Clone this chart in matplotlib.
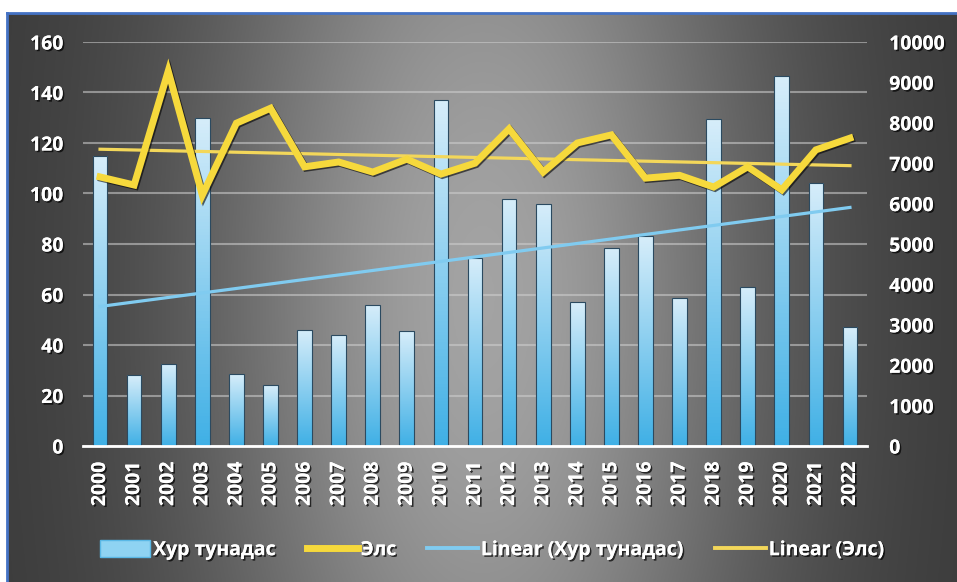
import numpy as np
import matplotlib
matplotlib.use("Agg")
import matplotlib.pyplot as plt
import matplotlib.patheffects as pe
from matplotlib.lines import Line2D
from matplotlib.patches import Patch

plt.rcParams["font.family"] = ["Open Sans", "DejaVu Sans"]
plt.rcParams["font.weight"] = "bold"

# ---------- data ----------
years = [str(y) for y in range(2000, 2023)]
rain = [115, 28, 32.5, 130, 28.5, 24, 46, 44, 56, 45.5, 137, 74.5, 98, 96,
        57, 78.5, 83, 58.5, 129.5, 63, 146.5, 104, 47]          # Хур тунадас
sand = [6660, 6460, 9280, 6210, 7990, 8360, 6910, 7030, 6780, 7100, 6730,
        7000, 7850, 6780, 7500, 7700, 6630, 6700, 6410, 6910, 6340, 7330, 7620]  # Элс
left_ticks = list(range(0, 161, 20))
right_ticks = list(range(0, 10001, 1000))

YELLOW, BLUE_TR = "#f6d93c", "#80cbf0"
shadow = [pe.withSimplePatchShadow(offset=(1.2, -1.2), shadow_rgbFace="k", alpha=0.7), pe.Normal()]

W, H = 957, 582
fig = plt.figure(figsize=(W / 100, H / 100), dpi=100, facecolor="white")

# ---------- dark background, light in the middle, with blue frame ----------
bg = fig.add_axes([8 / W, 0, 1 - 8 / W, 1 - 14 / H])
bg.set_axis_off()
gy, gx = np.mgrid[0:1:300j, 0:1:500j]
v = 0.22 + 0.42 * np.exp(-((gx - 0.5) / 0.3) ** 2) * np.exp(-((gy - 0.5) / 1.2) ** 2)
bg.imshow(np.dstack([v, v, v]), extent=[0, 1, 0, 1], aspect="auto", origin="lower")
fig.add_artist(Line2D([7 / W, 1], [1 - 13 / H] * 2, color="#4472c4", lw=2, transform=fig.transFigure))
fig.add_artist(Line2D([7 / W] * 2, [0, 1 - 13 / H], color="#4472c4", lw=2, transform=fig.transFigure))

# ---------- main axes ----------
ax = fig.add_axes([83 / W, 1 - 446 / H, (867 - 83) / W, (446 - 42) / H])
ax.set_facecolor("none")
x = np.arange(len(years))

bars = ax.bar(x, rain, width=0.43, color="none", edgecolor="#2b4a60", lw=0.8, zorder=3)
grad = np.linspace(0, 1, 100)[:, None]
top_c, bot_c = np.array([0.84, 0.93, 0.98]), np.array([0.25, 0.69, 0.90])
img = bot_c[None, None, :] * (1 - grad[..., None]) + top_c[None, None, :] * grad[..., None]
img = np.repeat(img, 3, axis=1)
for b in bars:
    x0, w, h = b.get_x(), b.get_width(), b.get_height()
    im = ax.imshow(img, extent=[x0, x0 + w, 0, h], aspect="auto", origin="lower", zorder=2)
    im.set_clip_path(b)

k, c = np.polyfit(x, rain, 1)
ax.plot(x, k * x + c, color=BLUE_TR, lw=2.3, zorder=4)

ax.set_xlim(-0.5, len(years) - 0.5)
ax.set_ylim(0, 160)
ax.set_yticks(left_ticks)
ax.set_xticks(x)
ax.set_xticklabels(years, rotation=90)
ax.grid(axis="y", color="#d0d0d0", alpha=0.55, lw=1.5)
ax.set_axisbelow(True)
ax.tick_params(axis="y", length=0, pad=14, labelsize=14, labelcolor="white")
ax.tick_params(axis="x", length=0, pad=11, labelsize=14, labelcolor="white")
for s in ["top", "left", "right"]:
    ax.spines[s].set_visible(False)
ax.spines["bottom"].set_color("white")
ax.spines["bottom"].set_linewidth(2)
ax.spines["bottom"].set_zorder(5)

# ---------- secondary axis: Элс ----------
ax2 = ax.twinx()
k2, c2 = np.polyfit(x, sand, 1)
ax2.plot(x, k2 * x + c2, color="#f3d75a", lw=2.3, zorder=3)
ax2.plot(x, sand, color=YELLOW, lw=5, solid_joinstyle="miter", zorder=4,
         path_effects=[pe.SimpleLineShadow(offset=(1, -1), shadow_color="k", alpha=0.6), pe.Normal()])
ax2.set_ylim(0, 10000)
ax2.set_yticks(right_ticks)
ax2.tick_params(axis="y", length=0, pad=16, labelsize=14, labelcolor="white")
for s in ax2.spines.values():
    s.set_visible(False)

for t in ax.get_xticklabels() + ax.get_yticklabels() + ax2.get_yticklabels():
    t.set_path_effects(shadow)

# ---------- legend ----------
handles = [
    Patch(facecolor="#8fd3f2", edgecolor="#5ab8e6", label="Хур тунадас"),
    Line2D([0], [0], color=YELLOW, lw=5, label="Элс"),
    Line2D([0], [0], color=BLUE_TR, lw=2.8, label="Linear (Хур тунадас)"),
    Line2D([0], [0], color="#f3d75a", lw=2.8, label="Linear (Элс)"),
]
leg = fig.legend(handles=handles, loc="center", bbox_to_anchor=(492 / W, 1 - 550 / H),
                 ncol=4, frameon=False, fontsize=14, handlelength=2.6, handleheight=1.0,
                 handletextpad=0.15, columnspacing=1.6)
for t in leg.get_texts():
    t.set_color("white")
    t.set_path_effects(shadow)

fig.savefig("out.png", dpi=100, facecolor=fig.get_facecolor())
